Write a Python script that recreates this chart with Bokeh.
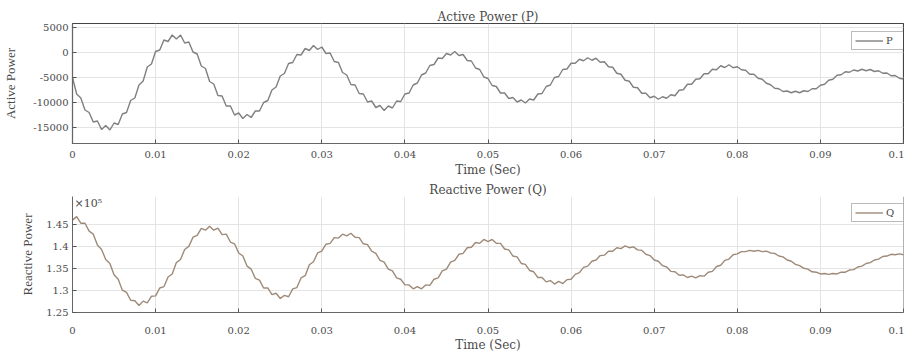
from bokeh.plotting import figure
from bokeh.layouts import column
from bokeh.models import Range1d, FixedTicker, Title, Label, Legend, LegendItem, Span
from bokeh.embed import file_html
from bokeh.resources import INLINE

# time axis (s)
TIME = [
    0.0000, 0.0005, 0.0010, 0.0015, 0.0020, 0.0025, 0.0030, 0.0035, 0.0040, 0.0045,
    0.0050, 0.0055, 0.0060, 0.0065, 0.0070, 0.0075, 0.0080, 0.0085, 0.0090, 0.0095,
    0.0100, 0.0105, 0.0110, 0.0115, 0.0120, 0.0125, 0.0130, 0.0135, 0.0140, 0.0145,
    0.0150, 0.0155, 0.0160, 0.0165, 0.0170, 0.0175, 0.0180, 0.0185, 0.0190, 0.0195,
    0.0200, 0.0205, 0.0210, 0.0215, 0.0220, 0.0225, 0.0230, 0.0235, 0.0240, 0.0245,
    0.0250, 0.0255, 0.0260, 0.0265, 0.0270, 0.0275, 0.0280, 0.0285, 0.0290, 0.0295,
    0.0300, 0.0305, 0.0310, 0.0315, 0.0320, 0.0325, 0.0330, 0.0335, 0.0340, 0.0345,
    0.0350, 0.0355, 0.0360, 0.0365, 0.0370, 0.0375, 0.0380, 0.0385, 0.0390, 0.0395,
    0.0400, 0.0405, 0.0410, 0.0415, 0.0420, 0.0425, 0.0430, 0.0435, 0.0440, 0.0445,
    0.0450, 0.0455, 0.0460, 0.0465, 0.0470, 0.0475, 0.0480, 0.0485, 0.0490, 0.0495,
    0.0500, 0.0505, 0.0510, 0.0515, 0.0520, 0.0525, 0.0530, 0.0535, 0.0540, 0.0545,
    0.0550, 0.0555, 0.0560, 0.0565, 0.0570, 0.0575, 0.0580, 0.0585, 0.0590, 0.0595,
    0.0600, 0.0605, 0.0610, 0.0615, 0.0620, 0.0625, 0.0630, 0.0635, 0.0640, 0.0645,
    0.0650, 0.0655, 0.0660, 0.0665, 0.0670, 0.0675, 0.0680, 0.0685, 0.0690, 0.0695,
    0.0700, 0.0705, 0.0710, 0.0715, 0.0720, 0.0725, 0.0730, 0.0735, 0.0740, 0.0745,
    0.0750, 0.0755, 0.0760, 0.0765, 0.0770, 0.0775, 0.0780, 0.0785, 0.0790, 0.0795,
    0.0800, 0.0805, 0.0810, 0.0815, 0.0820, 0.0825, 0.0830, 0.0835, 0.0840, 0.0845,
    0.0850, 0.0855, 0.0860, 0.0865, 0.0870, 0.0875, 0.0880, 0.0885, 0.0890, 0.0895,
    0.0900, 0.0905, 0.0910, 0.0915, 0.0920, 0.0925, 0.0930, 0.0935, 0.0940, 0.0945,
    0.0950, 0.0955, 0.0960, 0.0965, 0.0970, 0.0975, 0.0980, 0.0985, 0.0990, 0.0995,
    0.1000,
]

# Active power P
P = [
    -5000, -8300, -9100, -11500, -12000, -13900, -13700, -15400, -14600, -15500,
    -14100, -14400, -12300, -12000, -9600, -9100, -6500, -5700, -2900, -2300,
    200, 500, 2500, 2200, 3500, 2700, 3500, 1900, 2100, 100,
    -300, -2700, -3200, -5800, -6300, -8600, -8700, -10700, -10700, -12500,
    -12100, -13200, -12400, -13000, -11700, -11700, -10000, -9600, -7500, -6900,
    -4700, -4200, -2200, -2000, -400, -500, 800, 400, 1400, 600,
    1100, -200, -100, -1800, -2000, -4000, -4500, -6400, -6500, -8200,
    -8300, -9900, -9700, -11000, -10600, -11600, -10700, -11100, -9700, -9800,
    -8300, -8100, -6500, -6100, -4500, -4100, -2600, -2400, -1100, -1200,
    -200, -500, 200, -600, -400, -1600, -1700, -3100, -3400, -4900,
    -5200, -6600, -6800, -8100, -8100, -9200, -9000, -9900, -9500, -10100,
    -9300, -9500, -8300, -8200, -6800, -6500, -5000, -4800, -3400, -3300,
    -2150, -2150, -1350, -1650, -1050, -1550, -1150, -1950, -1850, -2850,
    -2950, -4150, -4350, -5550, -5750, -6950, -7050, -8150, -8150, -9050,
    -8750, -9350, -8850, -9150, -8450, -8650, -7550, -7450, -6350, -6350,
    -5350, -5250, -4250, -4250, -3350, -3450, -2650, -3000, -2450, -3050,
    -2850, -3450, -3550, -4350, -4350, -5150, -5350, -6150, -6450, -7150,
    -7250, -7800, -7700, -8050, -7750, -8050, -7650, -7800, -7250, -7250,
    -6550, -6350, -5550, -5350, -4550, -4450, -3850, -3950, -3500, -3700,
    -3350, -3650, -3400, -3800, -3650, -4150, -4100, -4650, -4600, -5150,
    -5300,
]

# Reactive power Q (x 10^5)
Q = [
    1.461, 1.469, 1.454, 1.454, 1.436, 1.429, 1.404, 1.394, 1.371, 1.362,
    1.336, 1.326, 1.301, 1.296, 1.278, 1.277, 1.266, 1.276, 1.272, 1.287,
    1.288, 1.306, 1.309, 1.331, 1.338, 1.364, 1.371, 1.394, 1.401, 1.422,
    1.426, 1.442, 1.438, 1.447, 1.438, 1.443, 1.428, 1.429, 1.411, 1.407,
    1.386, 1.379, 1.356, 1.349, 1.328, 1.324, 1.306, 1.306, 1.291, 1.294,
    1.282, 1.289, 1.286, 1.304, 1.307, 1.329, 1.334, 1.359, 1.366, 1.386,
    1.390, 1.406, 1.408, 1.421, 1.420, 1.429, 1.425, 1.431, 1.422, 1.421,
    1.407, 1.405, 1.390, 1.385, 1.369, 1.365, 1.349, 1.345, 1.329, 1.326,
    1.313, 1.313, 1.304, 1.309, 1.304, 1.313, 1.312, 1.326, 1.329, 1.345,
    1.349, 1.365, 1.369, 1.383, 1.385, 1.398, 1.399, 1.410, 1.408, 1.417,
    1.412, 1.417, 1.408, 1.408, 1.395, 1.393, 1.379, 1.377, 1.362, 1.360,
    1.346, 1.343, 1.330, 1.330, 1.320, 1.323, 1.315, 1.321, 1.316, 1.325,
    1.326, 1.337, 1.341, 1.353, 1.356, 1.367, 1.370, 1.380, 1.381, 1.390,
    1.390, 1.398, 1.396, 1.402, 1.398, 1.400, 1.393, 1.392, 1.383, 1.380,
    1.370, 1.367, 1.357, 1.354, 1.344, 1.343, 1.335, 1.336, 1.330, 1.333,
    1.329, 1.334, 1.333, 1.342, 1.344, 1.355, 1.358, 1.369, 1.372, 1.382,
    1.384, 1.389, 1.389, 1.392, 1.390, 1.392, 1.389, 1.390, 1.386, 1.385,
    1.379, 1.377, 1.370, 1.367, 1.360, 1.357, 1.351, 1.349, 1.343, 1.342,
    1.338, 1.339, 1.337, 1.339, 1.338, 1.342, 1.342, 1.347, 1.348, 1.354,
    1.356, 1.362, 1.364, 1.370, 1.372, 1.378, 1.379, 1.383, 1.382, 1.384,
    1.382,
]

X_TICKS = [0, 0.01, 0.02, 0.03, 0.04, 0.05, 0.06, 0.07, 0.08, 0.09, 0.1]
X_LABELS = ["0", "0.01", "0.02", "0.03", "0.04", "0.05", "0.06", "0.07", "0.08", "0.09", "0.1"]
P_TICKS = [-15000, -10000, -5000, 0, 5000]
P_LABELS = ["-15000", "-10000", "-5000", "0", "5000"]
Q_TICKS = [1.25, 1.3, 1.35, 1.4, 1.45]
Q_LABELS = ["1.25", "1.3", "1.35", "1.4", "1.45"]

HFONT = "DejaVu Serif"
VFONT = "Liberation Serif"
TXT = "#4a4a4a"


def style(p, yticks, ylabels, ylabel, tick_standoff, xlab_standoff, ylab_standoff):
    p.xaxis.ticker = FixedTicker(ticks=X_TICKS)
    p.xaxis.major_label_overrides = {t: l for t, l in zip(X_TICKS, X_LABELS)}
    p.yaxis.ticker = FixedTicker(ticks=yticks)
    p.yaxis.major_label_overrides = {t: l for t, l in zip(yticks, ylabels)}
    for ax in (p.xaxis[0], p.yaxis[0]):
        ax.major_tick_in = 4
        ax.major_tick_out = 0
        ax.minor_tick_in = 0
        ax.minor_tick_out = 0
        ax.axis_line_color = "#666666"
        ax.major_tick_line_color = "#555555"
        ax.major_label_text_font = HFONT
        ax.major_label_text_font_size = "10px"
        ax.major_label_text_color = TXT
        ax.axis_label_text_font_style = "normal"
        ax.axis_label_text_color = TXT
    p.xaxis.axis_label = "Time (Sec)"
    p.xaxis.axis_label_text_font = HFONT
    p.xaxis.axis_label_text_font_size = "12px"
    p.xaxis.major_label_standoff = tick_standoff
    p.xaxis.axis_label_standoff = xlab_standoff
    p.yaxis.axis_label = ylabel
    p.yaxis.axis_label_text_font = VFONT
    p.yaxis.axis_label_text_font_size = "13px"
    p.yaxis.major_label_standoff = 4
    p.yaxis.axis_label_standoff = ylab_standoff
    p.xgrid.grid_line_color = "#e4e4e4"
    p.ygrid.grid_line_color = "#e4e4e4"
    p.background_fill_color = "white"
    p.border_fill_color = "white"


p1 = figure(width=904, height=180, x_range=Range1d(0, 0.1), y_range=Range1d(-18200, 5800),
            output_backend="svg", toolbar_location=None,
            min_border_left=72, min_border_right=1, min_border_top=23, min_border_bottom=37)
p1.add_layout(Title(text="Active Power (P)", align="center", text_font=HFONT,
                    text_font_size="12px", text_font_style="normal", text_color=TXT,
                    standoff=0, offset=0), "above")
r1 = p1.line(TIME, P, line_color="#808080", line_width=1.4)
style(p1, P_TICKS, P_LABELS, "Active Power", 7, 2, 12)
p1.outline_line_color = "#444444"
p1.outline_line_width = 1.2
leg1 = Legend(items=[LegendItem(label="P", renderers=[r1])], location=(779, 93),
              label_text_font=HFONT, label_text_font_size="10px", label_text_color=TXT,
              glyph_width=28, glyph_height=9, padding=3, spacing=0, margin=0,
              label_standoff=3, border_line_color="#777777", label_height=9,
              background_fill_alpha=1.0)
p1.add_layout(leg1)

# bottom panel: frame extended upward so the exponent label can sit inside it
p2 = figure(width=904, height=176, x_range=Range1d(0, 0.1), y_range=Range1d(1.25, 1.515),
            output_backend="svg", toolbar_location=None,
            min_border_left=72, min_border_right=1, min_border_top=15, min_border_bottom=44)
p2.add_layout(Title(text="Reactive Power (Q)", align="center", text_font=HFONT,
                    text_font_size="12px", text_font_style="normal", text_color=TXT,
                    standoff=0, offset=0), "above")
r2 = p2.line(TIME, Q, line_color="#9e8a78", line_width=1.4)
style(p2, Q_TICKS, Q_LABELS, "Reactive Power", 14, 1, 8)
p2.outline_line_color = None
p2.add_layout(Span(location=0.1, dimension="height", line_color="#666666", line_width=1))
leg2 = Legend(items=[LegendItem(label="Q", renderers=[r2])], location=(779, 90),
              label_text_font=HFONT, label_text_font_size="10px", label_text_color=TXT,
              glyph_width=28, glyph_height=9, padding=3, spacing=0, margin=0,
              label_standoff=3, border_line_color="#777777", label_height=9,
              background_fill_alpha=1.0)
p2.add_layout(leg2)
p2.add_layout(Label(x=0.0, y=1.515, text="×10⁵", text_font=HFONT, text_font_size="11px",
                    text_color=TXT, y_offset=0, x_offset=2, text_baseline="top"))

layout = column(p1, p2, spacing=0)
open("out.html", "w").write(file_html(layout, INLINE))
